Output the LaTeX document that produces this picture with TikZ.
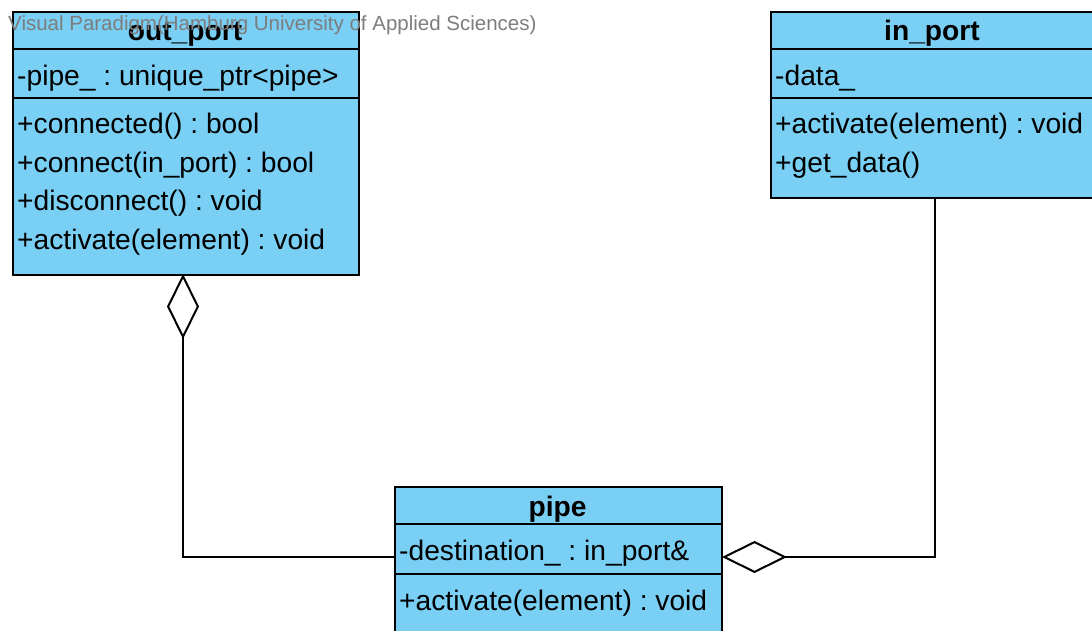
\documentclass[tikz,border=0pt]{standalone}
\usepackage{fontspec}
\setmainfont{Liberation Sans}
\usetikzlibrary{arrows.meta}
\definecolor{classfill}{RGB}{122,207,245}
\definecolor{markgray}{RGB}{125,125,125}
\tikzset{
  classbox/.style={draw=black, line width=2pt, fill=classfill, anchor=north west, inner sep=0pt},
  sepline/.style={line width=2pt},
  member/.style={anchor=base west, inner sep=0pt, font=\fontsize{28.2}{30}\selectfont},
  title/.style={anchor=base, inner sep=0pt, font=\fontsize{28.2}{30}\selectfont\bfseries},
  assoc/.style={line width=2pt},
  aggr/.style={assoc, {Diamond[open, fill=white, length=65pt, width=32pt, line width=2pt]}-},
}
\frenchspacing
\begin{document}
\begin{tikzpicture}[x=1pt, y=-1pt]
  \useasboundingbox (0,0) rectangle (1092,630);
  \clip (0,0) rectangle (1092,630);

  % class out_port
  \node[classbox, minimum width=346pt, minimum height=263pt] (outport) at (12,11) {};
  \draw[sepline] (12,49) -- (358,49);
  \draw[sepline] (12,98) -- (358,98);
  \node[title] (outportname) at (185,40) {out\_port};
  \node[member] (op1) at (17,85) {-pipe\_ : unique\_ptr<pipe>};
  \node[member] (op2) at (17,133.5) {+connected() : bool};
  \node[member] (op3) at (17,172) {+connect(in\_port) : bool};
  \node[member] (op4) at (17,210.5) {+disconnect() : void};
  \node[member] (op5) at (17,249) {+activate(element) : void};

  % class in_port (continues past the right edge)
  \node[classbox, minimum width=324pt, minimum height=186pt] (inport) at (770,11) {};
  \draw[sepline] (770,49) -- (1094,49);
  \draw[sepline] (770,98) -- (1094,98);
  \node[title] (inportname) at (932,40) {in\_port};
  \node[member] (ip1) at (775,85) {-data\_};
  \node[member] (ip2) at (775,133.5) {+activate(element) : void};
  \node[member] (ip3) at (775,172) {+get\_data()};

  % class pipe (continues past the bottom edge)
  \node[classbox, minimum width=327pt, minimum height=170pt] (pipe) at (394,486) {};
  \draw[sepline] (394,524) -- (721,524);
  \draw[sepline] (394,574) -- (721,574);
  \node[title] (pipename) at (557.5,516) {pipe};
  \node[member] (pp1) at (399,560) {-destination\_ : in\_port\&};
  \node[member] (pp2) at (399,610) {+activate(element) : void};

  % connection points
  \coordinate (opbottom) at (183,274);
  \coordinate (ipbottom) at (935,199);
  \coordinate (pipeleft) at (394,557);
  \coordinate (piperight) at (722,557);

  % aggregations
  \draw[aggr] (opbottom) |- (pipeleft);
  \draw[aggr] (piperight) -| (ipbottom);

  % watermark
  \node[anchor=base west, inner sep=0pt, text=markgray, font=\fontsize{20.5}{22}\selectfont] (mark) at (8,30)
    {Visual Paradigm(Hamburg University of Applied Sciences)};
\end{tikzpicture}
\end{document}
